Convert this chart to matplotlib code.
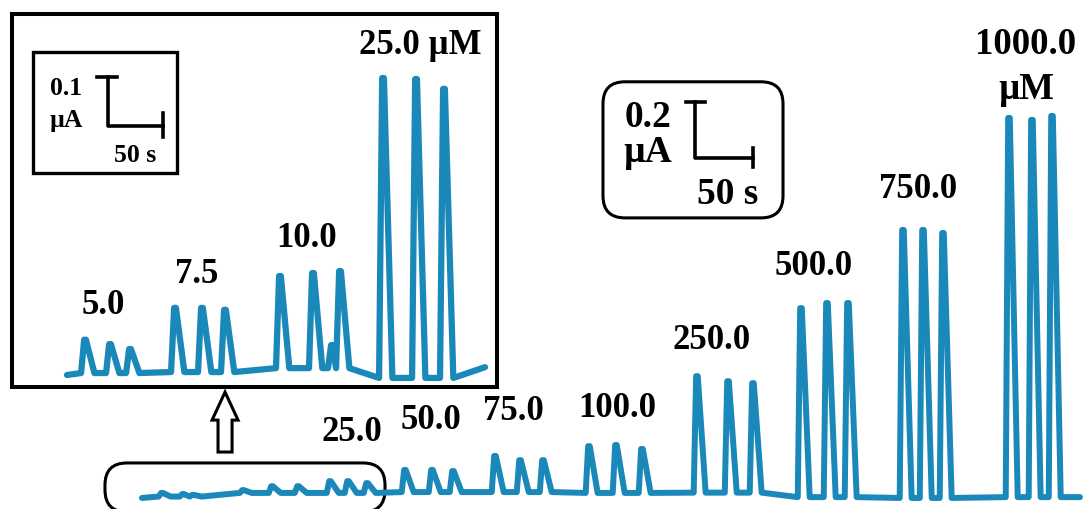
import matplotlib
matplotlib.use("Agg")
import matplotlib.pyplot as plt
from matplotlib.patches import FancyBboxPatch, Rectangle, FancyArrow

plt.rcParams['font.family'] = ['Liberation Serif', 'DejaVu Serif']
plt.rcParams['font.weight'] = 'bold'

TRACE = '#1a88b8'

# ---- main trace: peak times (s) and peak tops (uA), grouped by injection ----
main_times = [[17.2, 35.3, 44.0],
              [87.1, 112.1, 134.5],
              [162.1, 177.6, 194.0],
              [226.7, 250.0, 268.1],
              [304.3, 325.9, 345.7],
              [385.3, 408.6, 431.0],
              [478.4, 505.2, 526.7],
              [568.1, 590.5, 608.6],
              [656.0, 673.3, 690.5],
              [747.4, 767.2, 784.5]]
main_tops = [[0.011, 0.007, 0.004],
             [0.021, 0.035, 0.035],
             [0.053, 0.053, 0.046],
             [0.093, 0.093, 0.089],
             [0.143, 0.128, 0.128],
             [0.178, 0.182, 0.168],
             [0.428, 0.410, 0.403],
             [0.671, 0.689, 0.689],
             [0.950, 0.950, 0.939],
             [1.350, 1.343, 1.357]]
main_base = [-0.002, 0.011, 0.011, 0.014, 0.014, 0.011, 0.012, -0.004, -0.007, -0.004]
main_ends = [(0.0, -0.007), (808.6, -0.004)]
main_labels = ['', '', '25.0', '50.0', '75.0', '100.0', '250.0', '500.0', '750.0', '1000.0']
main_label_pos = [None, None, (181.0, 0.225), (249.0, 0.271), (319.8, 0.300),
                  (409.5, 0.314), (491.4, 0.557), (579.3, 0.818), (669.0, 1.093),
                  (762.1, 1.612)]

# ---- inset trace (low concentrations) ----
ins_times = [[16.4, 39.1, 57.3],
             [98.2, 122.7, 143.6],
             [193.6, 223.6, 240.9, 248.2],
             [287.3, 317.3, 342.7]]
ins_tops = [[0.072, 0.063, 0.053],
            [0.137, 0.137, 0.133],
            [0.202, 0.208, 0.061, 0.212],
            [0.606, 0.604, 0.584]]
ins_base = [0.004, 0.006, 0.014, -0.006]
ins_ends = [(0.0, 0.0), (380.0, 0.016)]
ins_labels = ['5.0', '7.5', '10.0', '25.0 µM']
ins_label_pos = [(32.7, 0.142), (118.2, 0.205), (218.2, 0.278), (320.9, 0.672)]


def build_trace(times, tops, bases, ends, rise, fall, flat):
    xs = [ends[0][0]]
    ys = [ends[0][1]]
    for g in range(len(times)):
        tt = times[g]
        for k in range(len(tt)):
            t = tt[k]
            t_end = t + fall
            if k + 1 < len(tt):
                t_end = min(t_end, tt[k + 1] - rise)
            xs += [t - rise, t - flat, t + flat, t_end]
            ys += [bases[g], tops[g][k], tops[g][k], bases[g]]
    xs.append(ends[1][0])
    ys.append(ends[1][1])
    return xs, ys


fig = plt.figure(figsize=(10.83, 5.09), dpi=100)

# main axes: covers whole figure, 1 s = 1.16 px, 1 uA = 280 px
ax = fig.add_axes([0, 0, 1, 1])
ax.set_xlim(-122.4, 811.2)
ax.set_ylim(-0.0464, 1.771)
ax.axis('off')

mx, my = build_trace(main_times, main_tops, main_base, main_ends, 2.8, 7.5, 0.7)
ax.plot(mx, my, color=TRACE, lw=4.3, solid_joinstyle='round', solid_capstyle='round')

for lab, pos in zip(main_labels, main_label_pos):
    if lab:
        size = 26.5 if lab == '1000.0' else 25
        ax.text(pos[0], pos[1], lab, fontsize=size, ha='center', va='center')
ax.text(762.1, 1.45, 'µM', fontsize=26.5, ha='center', va='center')

# main scale bar (0.2 uA, 50 s)
sx, sy = 476.7, 1.207
ax.plot([sx, sx, sx + 50], [sy + 0.2, sy, sy], color='black', lw=2.6)
ax.plot([sx - 8, sx + 9], [sy + 0.2, sy + 0.2], color='black', lw=2.6)
ax.plot([sx + 50, sx + 50], [sy - 0.032, sy + 0.034], color='black', lw=2.6)
ax.text(436.2, 1.352, '0.2', fontsize=27, ha='center', va='center')
ax.text(436.2, 1.228, 'µA', fontsize=27, ha='center', va='center')
ax.text(505.2, 1.075, '50 s', fontsize=27, ha='center', va='center')
ax.add_patch(FancyBboxPatch((397.4, 0.993), 155.2, 0.486,
                            boxstyle='round,pad=0,rounding_size=19',
                            mutation_aspect=0.00414, lw=2.2, ec='black', fc='none'))

# zoom region marker and arrow
ax.add_patch(FancyBboxPatch((-31.9, -0.057), 241.4, 0.175,
                            boxstyle='round,pad=0,rounding_size=19',
                            mutation_aspect=0.00414, lw=2.2, ec='black', fc='none'))
ax.add_patch(FancyArrow(71.6, 0.157, 0, 0.214, width=12.1, head_width=22.4,
                        head_length=0.1, length_includes_head=True,
                        fc='white', ec='black', lw=2.2))

# inset axes: 1 s = 1.1 px, 1 uA = 490 px
ins = fig.add_axes([12 / 1083, 1 - 387 / 509, 485 / 1083, 373 / 509])
ins.set_xlim(-50.0, 390.9)
ins.set_ylim(-0.0245, 0.7367)
ins.set_xticks([])
ins.set_yticks([])
ins.set_facecolor('white')
for s in ins.spines.values():
    s.set_linewidth(2.9)
    s.set_color('black')

ix, iy = build_trace(ins_times, ins_tops, ins_base, ins_ends, 3.6, 8.5, 0.8)
ins.plot(ix, iy, color=TRACE, lw=4.5, solid_joinstyle='round', solid_capstyle='round')
for lab, pos in zip(ins_labels, ins_label_pos):
    ins.text(pos[0], pos[1], lab, fontsize=25, ha='center', va='center')

# inset scale bar (0.1 uA, 50 s)
bx, by = 37.3, 0.508
ins.plot([bx, bx, bx + 50], [by + 0.1, by, by], color='black', lw=2.6)
ins.plot([bx - 10, bx + 8], [by + 0.1, by + 0.1], color='black', lw=2.6)
ins.plot([bx + 50, bx + 50], [by - 0.022, by + 0.027], color='black', lw=2.6)
ins.text(-0.9, 0.585, '0.1', fontsize=18.5, ha='center', va='center')
ins.text(-0.9, 0.519, 'µA', fontsize=18.5, ha='center', va='center')
ins.text(61.8, 0.448, '50 s', fontsize=18.5, ha='center', va='center')
ins.add_patch(Rectangle((-30.9, 0.412), 130.9, 0.247, lw=2.4, ec='black', fc='none'))

fig.savefig('out.png', dpi=100)
